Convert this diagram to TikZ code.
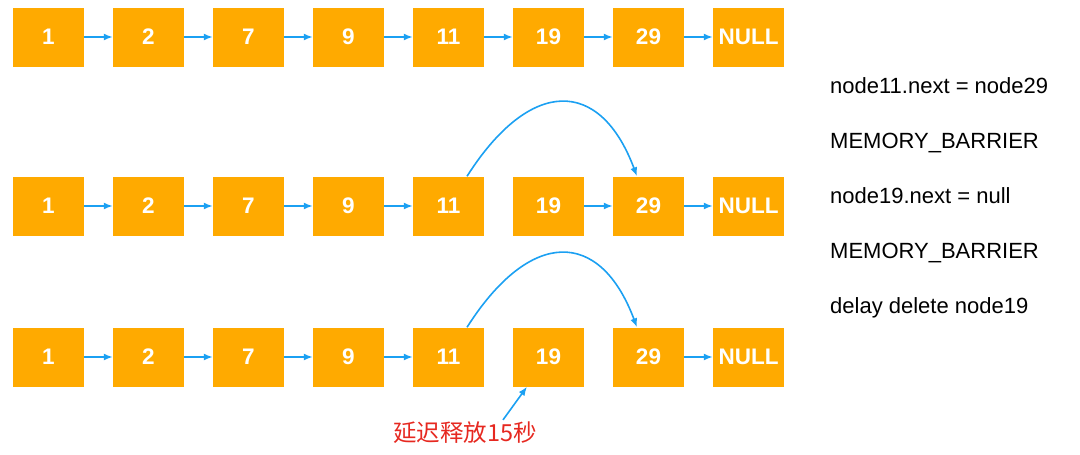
\documentclass[tikz,border=0pt]{standalone}
\usepackage{fontspec}
\setmainfont{Liberation Sans}
\newfontfamily\cjk{Noto Sans CJK SC}
\usetikzlibrary{positioning,arrows.meta}

\definecolor{cellorange}{RGB}{255,170,0}
\definecolor{linkblue}{RGB}{27,160,242}
\definecolor{notered}{RGB}{230,40,32}

\tikzset{
  cell/.style={fill=cellorange,minimum width=71pt,minimum height=59pt,inner sep=0pt,
    text=white,font=\fontsize{22.5}{26}\selectfont\bfseries},
  link/.style={draw=linkblue,line width=1.6pt,-{Latex[length=9pt,width=7pt]}},
  stmt/.style={anchor=base west,inner sep=0pt,font=\fontsize{22}{26}\selectfont}
}

\begin{document}
\begin{tikzpicture}[x=1pt,y=1pt,node distance=100pt,on grid]
  \useasboundingbox (0,0) rectangle (1080,-455);

  % first row: original list
  \node[cell] (a1) at (48.5,-37) {1};
  \node[cell] (a2) [right of=a1] {2};
  \node[cell] (a3) [right of=a2] {7};
  \node[cell] (a4) [right of=a3] {9};
  \node[cell] (a5) [right of=a4] {11};
  \node[cell] (a6) [right of=a5] {19};
  \node[cell] (a7) [right of=a6] {29};
  \node[cell] (a8) [right of=a7] {NULL};

  % second row: 11 skips 19
  \node[cell] (b1) [below=169pt of a1] {1};
  \node[cell] (b2) [right of=b1] {2};
  \node[cell] (b3) [right of=b2] {7};
  \node[cell] (b4) [right of=b3] {9};
  \node[cell] (b5) [right of=b4] {11};
  \node[cell] (b6) [right of=b5] {19};
  \node[cell] (b7) [right of=b6] {29};
  \node[cell] (b8) [right of=b7] {NULL};

  % third row: 19 cut off
  \node[cell] (c1) [below=151pt of b1] {1};
  \node[cell] (c2) [right of=c1] {2};
  \node[cell] (c3) [right of=c2] {7};
  \node[cell] (c4) [right of=c3] {9};
  \node[cell] (c5) [right of=c4] {11};
  \node[cell] (c6) [right of=c5] {19};
  \node[cell] (c7) [right of=c6] {29};
  \node[cell] (c8) [right of=c7] {NULL};

  \foreach \i [count=\j from 2] in {1,...,7}
    \path[link] (a\i) -- (a\j);
  \foreach \i/\j in {1/2,2/3,3/4,4/5,6/7,7/8}
    \path[link] (b\i) -- (b\j);
  \foreach \i/\j in {1/2,2/3,3/4,4/5,7/8}
    \path[link] (c\i) -- (c\j);

  \path[link] ([xshift=18.5pt]b5.north) .. controls +(63,99) and +(-37,99) .. ([xshift=-11.5pt]b7.north);
  \path[link] ([xshift=18.5pt]c5.north) .. controls +(63,99) and +(-37,99) .. ([xshift=-11.5pt]c7.north);

  \node[text=notered,inner sep=2pt,font=\cjk\fontsize{23.5}{27}\selectfont] (delay) at (465,-433) {延迟释放15秒};
  \path[link] ([xshift=38pt]delay.north) -- ([xshift=-21.5pt]c6.south);

  % steps on the right
  \node[stmt] (s1) at (830,-93) {node11.next = node29};
  \node[stmt] (s2) at (830,-148) {MEMORY\_BARRIER};
  \node[stmt] (s3) at (830,-203) {node19.next = null};
  \node[stmt] (s4) at (830,-258) {MEMORY\_BARRIER};
  \node[stmt] (s5) at (830,-313) {delay delete node19};
\end{tikzpicture}
\end{document}
